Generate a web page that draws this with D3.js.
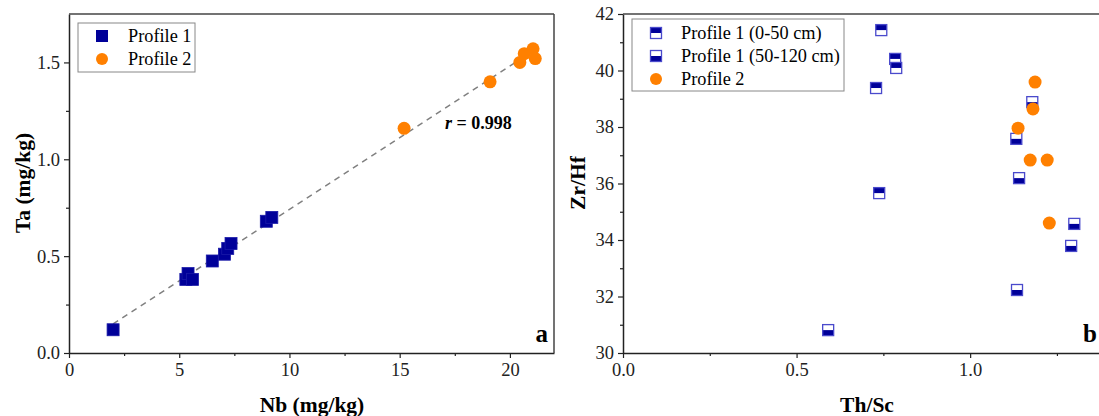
<html>
<head>
<script src="https://d3js.org/d3.v7.min.js"></script>
<style>
    body { margin: 0; background: #fff; }
    text { font-family: "Liberation Serif", "Times New Roman", serif; }
</style>
</head>
<body>
<svg width="1099" height="416"></svg>
<script>
// ---- data ----
// panel a: Nb vs Ta
const p1Nb = [2.0, 5.3, 5.4, 5.6, 6.5, 7.05, 7.2, 7.35, 8.95, 9.2];
const p1Ta = [0.12, 0.38, 0.41, 0.38, 0.475, 0.51, 0.54, 0.565, 0.68, 0.70];
const p2Nb = [15.2, 19.1, 20.45, 20.65, 21.05, 21.15];
const p2Ta = [1.16, 1.40, 1.50, 1.545, 1.57, 1.52];
const fitNb = [2.0, 21.2];
const fitTa = [0.15, 1.57];

// panel b: Th/Sc vs Zr/Hf
const top50ThSc = [0.744, 0.784, 0.787, 0.729, 0.738];
const top50ZrHf = [41.43, 40.41, 40.09, 39.38, 35.66];
const deepThSc = [1.179, 1.133, 1.141, 1.30, 1.291, 1.135, 0.591];
const deepZrHf = [38.88, 37.58, 36.19, 34.57, 33.79, 32.23, 30.81];
const p2ThSc = [1.187, 1.181, 1.138, 1.173, 1.222, 1.228];
const p2ZrHf = [39.59, 38.64, 37.96, 36.83, 36.83, 34.60];

const xTicksA = [0, 5, 10, 15, 20];
const yTicksA = [0.0, 0.5, 1.0, 1.5];
const xTicksB = [0.0, 0.5, 1.0];
const yTicksB = [30, 32, 34, 36, 38, 40, 42];

const navy = "#000099";
const orange = "#ff8000";
const edge = "#4a4acc";

const svg = d3.select("svg");

function zip(a, b) { return a.map(function(v, i) { return [v, b[i]]; }); }

// ---------- panel a ----------
const xa = d3.scaleLinear().domain([0, 22]).range([69, 554]);
const ya = d3.scaleLinear().domain([0, 1.75]).range([353, 14]);

function drawAxes(g, x, y, xt, yt, xMinor, yMinor, xFmt, yFmt) {
    g.append("g")
        .attr("transform", "translate(0," + y.range()[0] + ")")
        .call(d3.axisBottom(x).tickValues(xMinor).tickSize(3).tickFormat(""))
        .call(function(s) { s.select(".domain").remove(); });
    g.append("g")
        .attr("transform", "translate(" + x.range()[0] + ",0)")
        .call(d3.axisLeft(y).tickValues(yMinor).tickSize(3).tickFormat(""))
        .call(function(s) { s.select(".domain").remove(); });

    var xg = g.append("g")
        .attr("transform", "translate(0," + y.range()[0] + ")")
        .call(d3.axisBottom(x).tickValues(xt).tickSize(5).tickSizeOuter(0).tickPadding(5).tickFormat(xFmt));
    var yg = g.append("g")
        .attr("transform", "translate(" + x.range()[0] + ",0)")
        .call(d3.axisLeft(y).tickValues(yt).tickSize(5).tickSizeOuter(0).tickPadding(4).tickFormat(yFmt));
    [xg, yg].forEach(function(s) {
        s.selectAll("text").style("font-size", "18.5px").style("font-family", "Liberation Serif").attr("fill", "#222");
        s.select(".domain").attr("stroke", "#222").attr("stroke-width", 1.5);
    });
    g.selectAll("g.tick line").attr("stroke", "#222").attr("stroke-width", 1.2);
}

const ga = svg.append("g");
drawAxes(ga, xa, ya, xTicksA, yTicksA, [2.5, 7.5, 12.5, 17.5], [0.25, 0.75, 1.25],
    d3.format("d"), d3.format(".1f"));

// frame
ga.append("line").attr("x1", xa(0)).attr("x2", xa(22)).attr("y1", ya(1.75)).attr("y2", ya(1.75))
    .attr("stroke", "#444").attr("stroke-width", 1.5);
ga.append("line").attr("x1", xa(22)).attr("x2", xa(22)).attr("y1", ya(1.75)).attr("y2", ya(0))
    .attr("stroke", "#444").attr("stroke-width", 1.5);

// fit line
ga.append("path")
    .datum(zip(fitNb, fitTa))
    .attr("d", d3.line().x(function(d) { return xa(d[0]); }).y(function(d) { return ya(d[1]); }))
    .attr("stroke", "#808080").attr("stroke-width", 1.5).attr("stroke-dasharray", "6,5").attr("fill", "none");

ga.selectAll("rect.p1").data(zip(p1Nb, p1Ta)).enter().append("rect")
    .attr("x", function(d) { return xa(d[0]) - 6; })
    .attr("y", function(d) { return ya(d[1]) - 6; })
    .attr("width", 12).attr("height", 12)
    .attr("fill", navy).attr("stroke", "#1a1aa8").attr("stroke-width", 0.8);

ga.selectAll("circle.p2").data(zip(p2Nb, p2Ta)).enter().append("circle")
    .attr("cx", function(d) { return xa(d[0]); })
    .attr("cy", function(d) { return ya(d[1]); })
    .attr("r", 6.5).attr("fill", orange);

var rt = ga.append("text").attr("x", 445).attr("y", 129)
    .style("font-size", "18px").style("font-weight", "bold");
rt.append("tspan").style("font-style", "italic").text("r");
rt.append("tspan").text(" = 0.998");

ga.append("text").attr("x", 548).attr("y", 342).attr("text-anchor", "end")
    .style("font-size", "25px").style("font-weight", "bold").text("a");

ga.append("text").attr("x", 312).attr("y", 412).attr("text-anchor", "middle")
    .style("font-size", "21.5px").style("font-weight", "bold").text("Nb (mg/kg)");
ga.append("text").attr("transform", "translate(30,183) rotate(-90)").attr("text-anchor", "middle")
    .style("font-size", "21.5px").style("font-weight", "bold").text("Ta (mg/kg)");

// legend a
var la = ga.append("g");
la.append("rect").attr("x", 78).attr("y", 23).attr("width", 117).attr("height", 49)
    .attr("fill", "#fff").attr("stroke", "#888").attr("stroke-width", 1);
la.append("rect").attr("x", 96).attr("y", 30).attr("width", 12).attr("height", 12).attr("fill", navy);
la.append("circle").attr("cx", 102).attr("cy", 59).attr("r", 6).attr("fill", orange);
la.append("text").attr("x", 128).attr("y", 42).style("font-size", "18.3px").text("Profile 1");
la.append("text").attr("x", 128).attr("y", 65).style("font-size", "18.3px").text("Profile 2");

// ---------- panel b ----------
const xb = d3.scaleLinear().domain([0, 1.4]).range([623, 1109]);
const yb = d3.scaleLinear().domain([30, 42]).range([353, 14]);

const gb = svg.append("g");
drawAxes(gb, xb, yb, xTicksB, yTicksB, [0.25, 0.75, 1.25], [31, 33, 35, 37, 39, 41],
    d3.format(".1f"), d3.format("d"));

gb.append("line").attr("x1", xb(0)).attr("x2", xb(1.4)).attr("y1", yb(42)).attr("y2", yb(42))
    .attr("stroke", "#444").attr("stroke-width", 1.5);

// half-filled square marker: filledTop = true -> top half navy
function halfSquare(g, cx, cy, s, filledTop) {
    var h = s / 2;
    g.append("rect").attr("x", cx - h).attr("y", cy - h).attr("width", s).attr("height", s).attr("fill", "#fff");
    g.append("rect").attr("x", cx - h).attr("y", filledTop ? cy - h : cy).attr("width", s).attr("height", h).attr("fill", navy);
    g.append("rect").attr("x", cx - h).attr("y", cy - h).attr("width", s).attr("height", s)
        .attr("fill", "none").attr("stroke", edge).attr("stroke-width", 1.3);
}

zip(deepThSc, deepZrHf).forEach(function(d) { halfSquare(gb, xb(d[0]), yb(d[1]), 11, false); });
zip(top50ThSc, top50ZrHf).forEach(function(d) { halfSquare(gb, xb(d[0]), yb(d[1]), 11, true); });

gb.selectAll("circle.p2").data(zip(p2ThSc, p2ZrHf)).enter().append("circle")
    .attr("cx", function(d) { return xb(d[0]); })
    .attr("cy", function(d) { return yb(d[1]); })
    .attr("r", 6.5).attr("fill", orange);

gb.append("text").attr("x", 1083).attr("y", 342)
    .style("font-size", "25px").style("font-weight", "bold").text("b");

gb.append("text").attr("x", 867).attr("y", 412).attr("text-anchor", "middle")
    .style("font-size", "21.5px").style("font-weight", "bold").text("Th/Sc");
gb.append("text").attr("transform", "translate(585,183) rotate(-90)").attr("text-anchor", "middle")
    .style("font-size", "21.5px").style("font-weight", "bold").text("Zr/Hf");

// legend b
var lb = gb.append("g");
lb.append("rect").attr("x", 632).attr("y", 19).attr("width", 212).attr("height", 72)
    .attr("fill", "#fff").attr("stroke", "#888").attr("stroke-width", 1);
halfSquare(lb, 656, 33, 11, true);
halfSquare(lb, 656, 56, 11, false);
lb.append("circle").attr("cx", 656).attr("cy", 79).attr("r", 6).attr("fill", orange);
lb.append("text").attr("x", 681).attr("y", 39).style("font-size", "18.3px").text("Profile 1 (0-50 cm)");
lb.append("text").attr("x", 681).attr("y", 62).style("font-size", "18.3px").text("Profile 1 (50-120 cm)");
lb.append("text").attr("x", 681).attr("y", 85).style("font-size", "18.3px").text("Profile 2");
</script>
</body>
</html>
